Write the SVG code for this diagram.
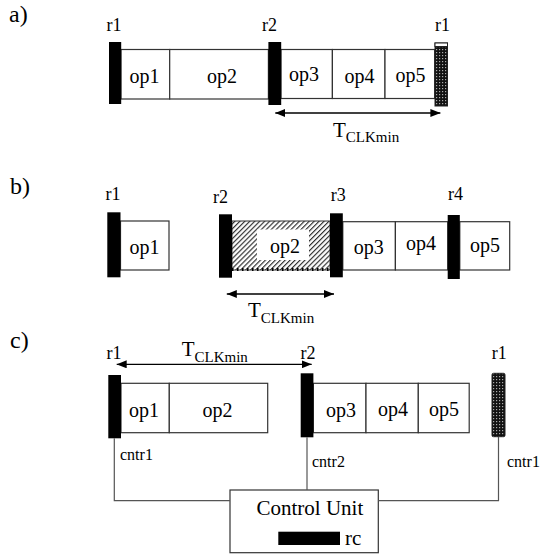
<svg xmlns="http://www.w3.org/2000/svg" width="543" height="557" viewBox="0 0 543 557" font-family="'Liberation Serif', 'DejaVu Serif', serif">
<style>
.sec{font-size:24px}
.rl{font-size:18px}
.op{font-size:20px;text-anchor:middle}
.T{font-size:21px}
.sub{font-size:15px}
.cn{font-size:16px}
.cu{font-size:21px}
.box{fill:#fff;stroke:#333;stroke-width:1.2}
.bar{fill:#000}
.dot{fill:url(#dots);stroke:#222;stroke-width:1}
.ln{fill:none;stroke:#555;stroke-width:1.2}
.arr{fill:none;stroke:#000;stroke-width:1.3;marker-start:url(#ah);marker-end:url(#ah)}
</style>
<defs>
<pattern id="dots" width="3" height="3" patternUnits="userSpaceOnUse">
<rect width="3" height="3" fill="#111"/>
<rect x="1" y="1" width="1.2" height="1.2" fill="#aaa"/>
</pattern>
<pattern id="hatch" width="3.5" height="3.5" patternUnits="userSpaceOnUse" patternTransform="rotate(45)">
<rect width="3.5" height="3.5" fill="#fff"/>
<line x1="0.6" y1="0" x2="0.6" y2="3.5" stroke="#222" stroke-width="1.1"/>
</pattern>
<marker id="ah" viewBox="0 0 10 8" refX="10" refY="4" markerWidth="10" markerHeight="8" markerUnits="userSpaceOnUse" orient="auto-start-reverse">
<path d="M0,0 L10,4 L0,8 Z" fill="#000"/>
</marker>
</defs>

<!-- section a -->
<text class="sec" x="9" y="22">a)</text>
<g id="a-op1"><rect class="box" x="121" y="49.5" width="48.7" height="49.5"/><text class="op" x="144.5" y="83">op1</text></g>
<g id="a-op2"><rect class="box" x="169.7" y="49.5" width="98.7" height="49.5"/><text class="op" x="222" y="83">op2</text></g>
<g id="a-op3"><rect class="box" x="281" y="49.5" width="51.4" height="49"/><text class="op" x="304" y="81">op3</text></g>
<g id="a-op4"><rect class="box" x="332.4" y="49.5" width="52.6" height="49"/><text class="op" x="359.5" y="83">op4</text></g>
<g id="a-op5"><rect class="box" x="385" y="49.5" width="49.6" height="49"/><text class="op" x="410.5" y="82">op5</text></g>
<g id="a-r1"><rect class="bar" x="109" y="42" width="12.2" height="62"/><text class="rl" x="106.5" y="31">r1</text></g>
<g id="a-r2"><rect class="bar" x="268.4" y="42" width="12.8" height="63"/><text class="rl" x="262" y="31">r2</text></g>
<g id="a-r1b"><rect class="dot" x="435" y="43" width="12.5" height="63"/><rect x="435" y="43" width="12.5" height="3.5" fill="#fff" stroke="#222" stroke-width="1"/><text class="rl" x="435" y="31">r1</text></g>
<g id="a-T"><text class="T" x="333" y="137">T<tspan class="sub" dy="5">CLKmin</tspan></text></g>

<!-- section b -->
<text class="sec" x="10" y="194">b)</text>
<g id="b-op1"><rect class="box" x="120.5" y="221" width="48.5" height="49"/><text class="op" x="144.5" y="254">op1</text></g>
<g id="b-op2"><rect x="232" y="221" width="98" height="49" fill="url(#hatch)" stroke="#333" stroke-width="1"/><rect x="257" y="229.5" width="52" height="30.5" fill="#fff"/><line x1="232" y1="269.5" x2="330" y2="269.5" stroke="#000" stroke-width="3" stroke-dasharray="1.5 3.5"/><text class="op" x="285" y="253">op2</text></g>
<g id="b-op3"><rect class="box" x="342.8" y="221.7" width="52.6" height="48.3"/><text class="op" x="368.7" y="254">op3</text></g>
<g id="b-op4"><rect class="box" x="395.4" y="221.7" width="52.3" height="48.3"/><text class="op" x="421" y="250">op4</text></g>
<g id="b-op5"><rect class="box" x="459.8" y="221.7" width="49.9" height="48.3"/><text class="op" x="485" y="252">op5</text></g>
<g id="b-r1"><rect class="bar" x="107.3" y="212.3" width="13.2" height="65"/><text class="rl" x="105.5" y="200">r1</text></g>
<g id="b-r2"><rect class="bar" x="219" y="214.3" width="13" height="63.4"/><text class="rl" x="213" y="202.5">r2</text></g>
<g id="b-r3"><rect class="bar" x="330" y="213.3" width="12.8" height="64"/><text class="rl" x="330.7" y="201">r3</text></g>
<g id="b-r4"><rect class="bar" x="447.7" y="215" width="12.1" height="64"/><text class="rl" x="448" y="199.5">r4</text></g>
<g id="b-T"><text class="T" x="248" y="317">T<tspan class="sub" dy="5.5">CLKmin</tspan></text></g>

<!-- section c -->
<text class="sec" x="10" y="348">c)</text>
<g id="c-op1"><rect class="box" x="121" y="383.3" width="48.3" height="49.4"/><text class="op" x="144" y="417">op1</text></g>
<g id="c-op2"><rect class="box" x="169.3" y="383.3" width="98.4" height="49.4"/><text class="op" x="217.5" y="417">op2</text></g>
<g id="c-op3"><rect class="box" x="313.4" y="383.3" width="52.6" height="49.4"/><text class="op" x="341" y="417">op3</text></g>
<g id="c-op4"><rect class="box" x="366" y="383.3" width="52.3" height="49.4"/><text class="op" x="393" y="416">op4</text></g>
<g id="c-op5"><rect class="box" x="418.3" y="383.3" width="50.9" height="49.4"/><text class="op" x="444" y="416">op5</text></g>
<g id="c-r1"><rect class="bar" x="108.3" y="375" width="12.7" height="63.3"/><text class="rl" x="106.5" y="359">r1</text><text class="cn" x="120" y="459.5">cntr1</text></g>
<g id="c-r2"><rect class="bar" x="300.7" y="373.3" width="12.7" height="64"/><text class="rl" x="300.5" y="359">r2</text><text class="cn" x="312" y="467">cntr2</text></g>
<g id="c-r1b"><rect class="dot" x="492" y="373.3" width="13" height="63.4" rx="1.5"/><text class="rl" x="491.7" y="359">r1</text><text class="cn" x="507" y="467">cntr1</text></g>
<g id="c-T"><text class="T" x="181.7" y="356">T<tspan class="sub" dy="5.7">CLKmin</tspan></text></g>
<g id="control-unit"><rect class="box" x="230" y="490" width="148.3" height="62.7"/><text class="cu" x="256.5" y="515">Control Unit</text><rect class="bar" x="278.3" y="531.7" width="61.7" height="13.3"/><text class="cu" x="345" y="545">rc</text></g>

<g id="connectors">
<line class="arr" x1="275.3" y1="113" x2="440.4" y2="113"/>
<line class="arr" x1="226.8" y1="294" x2="334" y2="294"/>
<line class="arr" x1="116.7" y1="364.3" x2="311.7" y2="364.3"/>
<polyline class="ln" points="114.3,438.3 114.3,500.7 230,500.7"/>
<line class="ln" x1="307" y1="437.3" x2="307" y2="490"/>
<polyline class="ln" points="378.3,500.7 498.5,500.7 498.5,436.7"/>
</g>
</svg>
